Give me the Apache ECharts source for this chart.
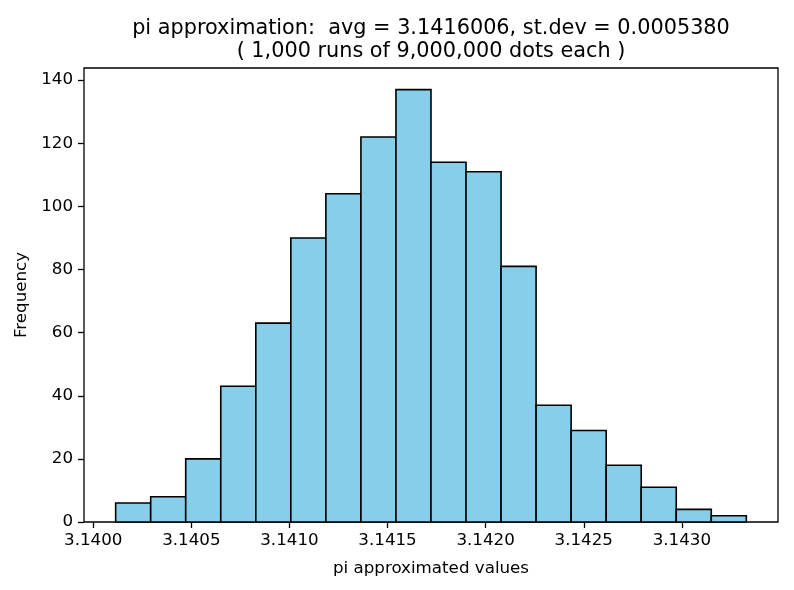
<!DOCTYPE html>
<html>
<head>
<meta charset="utf-8">
<script src="https://cdn.jsdelivr.net/npm/echarts@6/dist/echarts.min.js"></script>
<style>html,body{margin:0;padding:0;background:#fff}#c{width:794px;height:590px}</style>
</head>
<body>
<div id="c"></div>
<script>
const binEdges = [3.1401143, 3.1402929, 3.1404714, 3.1406500, 3.1408286, 3.1410071, 3.1411857,
  3.1413643, 3.1415429, 3.1417214, 3.1419000, 3.1420786, 3.1422571, 3.1424357, 3.1426143,
  3.1427929, 3.1429714, 3.1431500, 3.1433286];
const counts = [6, 8, 20, 43, 63, 90, 104, 122, 137, 114, 111, 81, 37, 29, 18, 11, 4, 2];
const xTicks = [3.1400, 3.1405, 3.1410, 3.1415, 3.1420, 3.1425, 3.1430];
const yTicks = [0, 20, 40, 60, 80, 100, 120, 140];
const titleText = 'pi approximation:  avg = 3.1416006, st.dev = 0.0005380\n( 1,000 runs of 9,000,000 dots each )';
const xName = 'pi approximated values';
const yName = 'Frequency';

const data = counts.map((c, i) => [binEdges[i], binEdges[i + 1], c]);
const FONT = 'DejaVu Sans';

const chart = echarts.init(document.getElementById('c'), null, {renderer: 'canvas'});
chart.setOption({
  animation: false,
  backgroundColor: '#fff',
  title: {
    text: titleText,
    left: 426,
    top: 12,
    textAlign: 'center',
    textStyle: {fontFamily: FONT, fontSize: 20.8, fontWeight: 'normal', color: '#000', lineHeight: 23}
  },
  grid: {left: 84, right: 16, top: 68, bottom: 68, show: true, borderColor: '#000', borderWidth: 1.3, backgroundColor: 'transparent'},
  xAxis: {
    type: 'value',
    min: 3.139953,
    max: 3.14349,
    name: xName,
    nameLocation: 'middle',
    nameGap: 38,
    nameTextStyle: {fontFamily: FONT, fontSize: 16.7, color: '#000'},
    axisLine: {show: false},
    axisTick: {show: true, length: 6, lineStyle: {color: '#000', width: 1.3}, customValues: xTicks},
    axisLabel: {fontFamily: FONT, fontSize: 16.7, color: '#000', margin: 10, customValues: xTicks,
      formatter: v => Number(v).toFixed(4)},
    splitLine: {show: false}
  },
  yAxis: {
    type: 'value',
    min: 0,
    max: 143.85,
    name: yName,
    nameLocation: 'middle',
    nameGap: 50,
    nameTextStyle: {fontFamily: FONT, fontSize: 16.7, color: '#000'},
    axisLine: {show: false},
    axisTick: {show: true, length: 6, lineStyle: {color: '#000', width: 1.3}, customValues: yTicks},
    axisLabel: {fontFamily: FONT, fontSize: 16.7, color: '#000', margin: 11, customValues: yTicks},
    splitLine: {show: false}
  },
  series: [{
    type: 'custom',
    data: data,
    encode: {x: [0, 1], y: 2},
    renderItem: function (params, api) {
      const p0 = api.coord([api.value(0), api.value(2)]);
      const p1 = api.coord([api.value(1), 0]);
      return {
        type: 'rect',
        shape: {x: p0[0], y: p0[1], width: p1[0] - p0[0], height: p1[1] - p0[1]},
        style: {fill: '#87CEEB', stroke: '#000', lineWidth: 1.6}
      };
    }
  }]
});
</script>
</body>
</html>
